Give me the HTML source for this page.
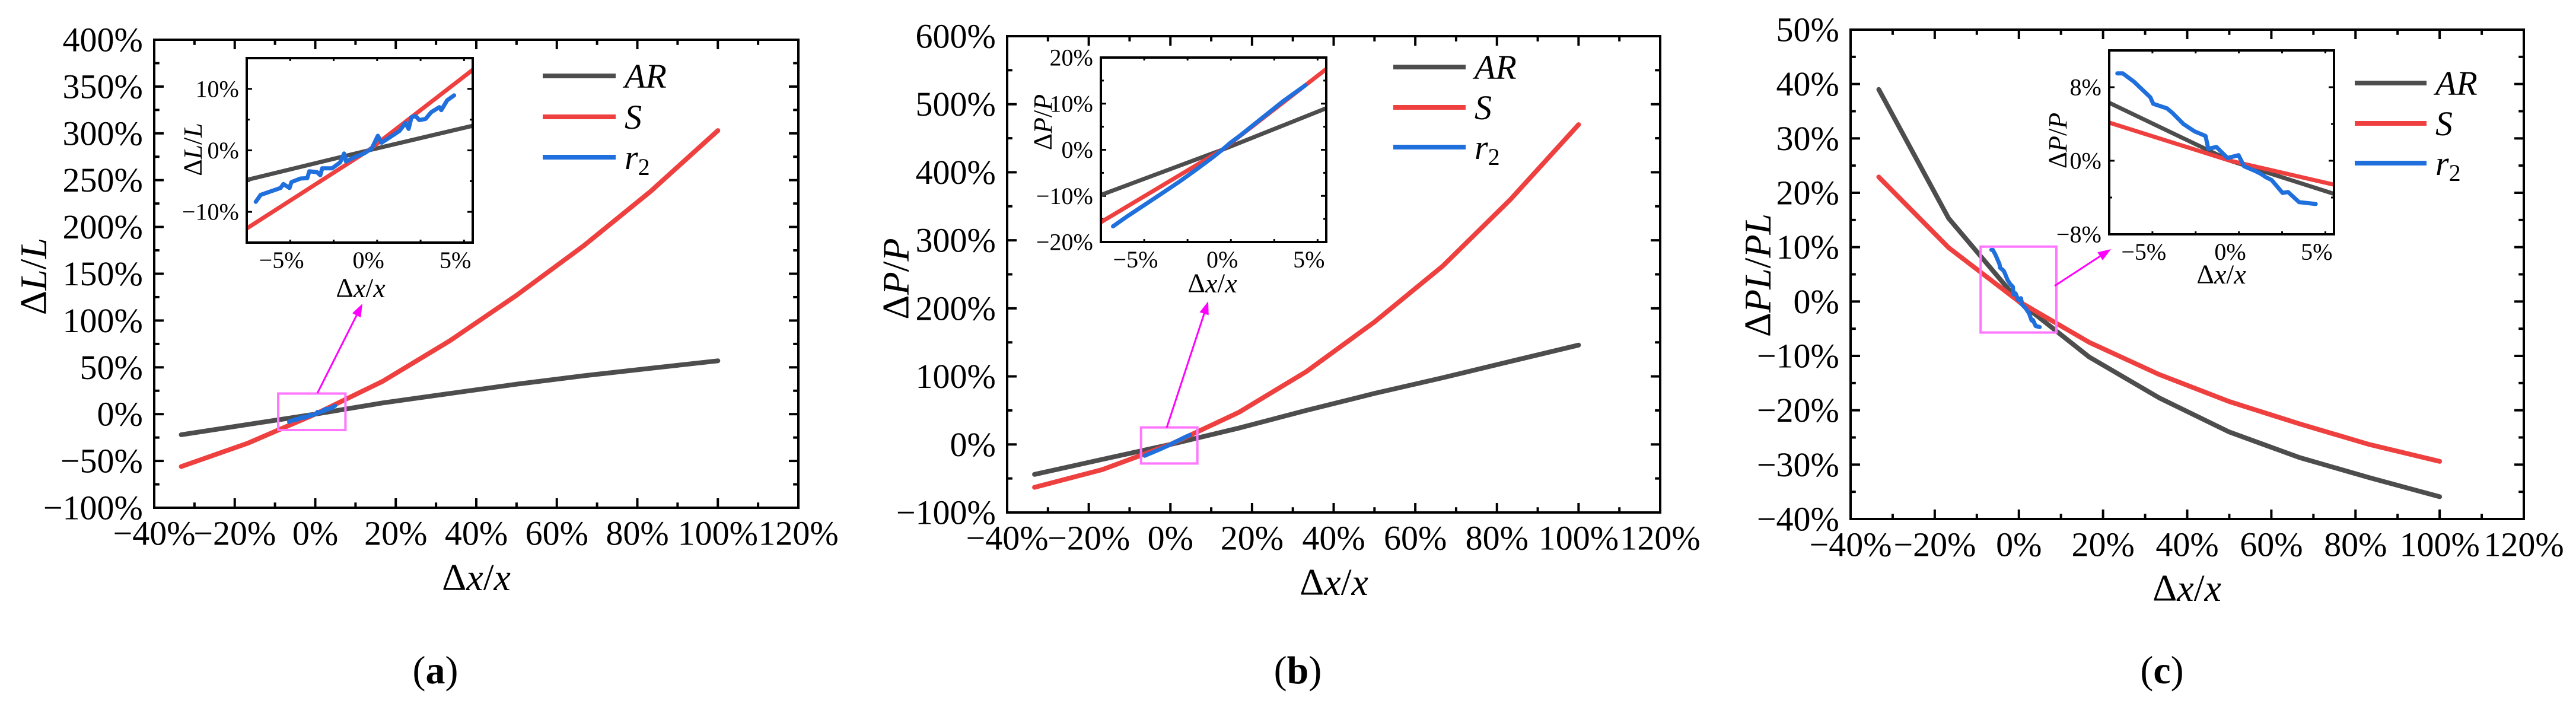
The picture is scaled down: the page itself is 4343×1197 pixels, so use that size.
<!DOCTYPE html>
<html><head><meta charset="utf-8">
<style>
html,body{margin:0;padding:0;background:#fff;}
svg, svg text{font-family:"Liberation Serif","DejaVu Serif",serif;}
</style></head>
<body>
<svg id="fig" width="4343" height="1192" viewBox="0 0 4343 1192" font-family="Liberation Serif, serif" xmlns="http://www.w3.org/2000/svg"></svg>
<script>
// ---- data ----
const xMain=[-33.3,-16.7,0,16.7,33.3,50,66.7,83.3,100];
const arA=[-22,-11,0,12,22,32,41,49,57];
const sA=[-56,-31,0,35,78,127,180,238,303];
const arB=[-44,-22,0,24,50,75,98,122,146];
const sB=[-63,-37,0,47,107,180,262,360,470];
const arC=[39,15.3,0,-10.2,-17.7,-24,-28.7,-32.4,-35.9];
const sC=[22.9,9.9,0,-7.5,-13.4,-18.4,-22.5,-26.3,-29.4];
const insX=[-7,0,6];
const insArA=[-4.8,0,4.0];
const insSA=[-12.7,0,13.1];
const insArB=[-9.8,0,9];
const insSB=[-15.7,0,17.5];
const insArC=[6.3,0,-3.6];
const insSC=[4.15,0,-2.6];
const r2xA=[-6.48,-6.20,-5.06,-4.89,-4.54,-4.43,-3.91,-3.52,-3.40,-2.95,-2.77,-2.66,-2.09,-1.63,-1.40,-1.29,-0.83,-0.26,0.19,0.54,0.76,1.45,1.79,2.13,2.31,2.48,2.71,2.93,3.28,3.62,4.08,4.19,4.53,4.93];
const r2yA=[-8.37,-7.24,-6.12,-5.48,-6.12,-5.16,-4.58,-4.52,-3.40,-3.56,-4.04,-2.92,-2.92,-1.96,-0.51,-1.80,-1.15,-0.51,0.29,2.37,1.25,2.53,3.17,4.45,3.49,5.41,5.58,4.93,5.10,6.22,7.02,6.54,8.14,8.94];
const r2xB=[-6.3,-5.5,-4.5,-3.5,-2.5,-1.5,-0.5,0,0.5,1,1.5,2.5,3.5,4.8];
const r2yB=[-16.6,-14.5,-12,-9.5,-7,-4.3,-1.5,0,1.6,3,4.5,7.5,10.5,14];
const r2xC=[-6.53,-6.21,-5.57,-4.62,-4.46,-3.66,-3.34,-2.71,-2.07,-1.43,-1.27,-0.80,-0.16,0.48,0.80,1.43,1.75,2.07,2.39,3.03,3.34,3.98,4.94];
const r2yC=[9.5,9.5,8.6,6.9,6.2,5.7,5.2,4.0,3.2,2.7,1.3,1.5,0.3,0.6,-0.6,-1.1,-1.4,-1.8,-2.1,-3.5,-3.4,-4.5,-4.7];
const xTicks=[-40,-20,0,20,40,60,80,100,120];
const yTicksA=[-100,-50,0,50,100,150,200,250,300,350,400];
const yTicksB=[-100,0,100,200,300,400,500,600];
const yTicksC=[-40,-30,-20,-10,0,10,20,30,40,50];
const insXTicks=[-5,0,5];
const insYTicksA=[-10,0,10];
const insYTicksB=[-20,-10,0,10,20];
const insYTicksC=[-8,0,8];

const NS="http://www.w3.org/2000/svg";
const FF="Liberation Serif, DejaVu Serif, serif";
const svg=document.getElementById('fig');
function mk(tag,attrs,parent){const e=document.createElementNS(NS,tag);for(const k in attrs)e.setAttribute(k,attrs[k]);if(tag==='text')e.setAttribute('font-family',FF);(parent||svg).appendChild(e);return e;}
function fmt(v){return (v<0?"\u2212"+(-v):""+v)+"%";}
const C_AR="#4d4d4d",C_S="#ef4040",C_R="#1f6fdc";

function axes(g,f,xt,yt,xMinor,yMinor,fs,tickLen,sw){
  const sx=v=>f.l+(v-f.x0)/(f.x1-f.x0)*(f.r-f.l);
  const sy=v=>f.b-(v-f.y0)/(f.y1-f.y0)*(f.b-f.t);
  const minorL=tickLen*0.55;
  for(let v=f.x0;v<=f.x1+1e-9;v+=xMinor){
    const maj=xt.some(t=>Math.abs(t-v)<1e-6);const L=maj?tickLen:minorL;const x=sx(v);
    const t1=mk('line',{x1:x,y1:f.b,x2:x,y2:f.b-L,stroke:'#000','stroke-width':sw},g);
    
    const t2=mk('line',{x1:x,y1:f.t,x2:x,y2:f.t+L,stroke:'#000','stroke-width':sw},g);
    
  }
  for(let v=f.y0;v<=f.y1+1e-9;v+=yMinor){
    const maj=yt.some(t=>Math.abs(t-v)<1e-6);const L=maj?tickLen:minorL;const y=sy(v);
    const t1=mk('line',{x1:f.l,y1:y,x2:f.l+L,y2:y,stroke:'#000','stroke-width':sw},g);
    
    const t2=mk('line',{x1:f.r,y1:y,x2:f.r-L,y2:y,stroke:'#000','stroke-width':sw},g);
    
  }
  xt.forEach(v=>{const t=mk('text',{x:sx(v),y:f.b+fs*0.74,'font-size':fs,'text-anchor':'middle','dominant-baseline':'central'},g);t.textContent=fmt(v);
    });
  yt.forEach(v=>{const t=mk('text',{x:f.l-fs*0.33,y:sy(v),'font-size':fs,'text-anchor':'end','dominant-baseline':'central'},g);t.textContent=fmt(v);
    });
  return {sx,sy};
}
function series(g,xs,ys,sx,sy,color,w,name,clip){
  const d=xs.map((x,i)=>(i?'L':'M')+sx(x).toFixed(1)+','+sy(ys[i]).toFixed(1)).join(' ');
  const p=mk('path',{d:d,fill:'none',stroke:color,'stroke-width':w,'stroke-linejoin':'round','stroke-linecap':'round'},g);
  if(clip)p.setAttribute('clip-path','url(#'+clip+')');
  
}
function ytitle(g,x,y,html,fs){const t=mk('text',{x:x,y:y,'font-size':fs,'text-anchor':'middle','dominant-baseline':'central',transform:`rotate(-90 ${x} ${y})`},g);t.innerHTML=html;return t;}
function xtitle(g,x,y,fs){const t=mk('text',{x:x,y:y,'font-size':fs,'text-anchor':'middle','dominant-baseline':'central'},g);t.innerHTML='\u0394<tspan font-style="italic">x</tspan>/<tspan font-style="italic">x</tspan>';return t;}

function panel(P){
  const g=mk('g',{});
  const f=P.frame;
  const m=axes(g,f,xTicks,P.yt,10,P.yMinor,58,16,4);
  series(g,xMain,P.ar,m.sx,m.sy,C_AR,8,'series-ar');
  series(g,xMain,P.s,m.sx,m.sy,C_S,8,'series-s');
  series(g,P.rx,P.ry,m.sx,m.sy,C_R,7,'series-r2');
  const fr=mk('rect',{x:f.l,y:f.t,width:f.r-f.l,height:f.b-f.t,fill:'none',stroke:'#000','stroke-width':4},g);
  
  const zb=P.box;
  const bx=mk('rect',{x:m.sx(zb[0]),y:m.sy(zb[3]),width:m.sx(zb[1])-m.sx(zb[0]),height:m.sy(zb[2])-m.sy(zb[3]),fill:'none',stroke:'#ff77ff','stroke-width':4},g);
  
  const a=P.arrow;
  const ang=Math.atan2(a[3]-a[1],a[2]-a[0]);
  const hx=a[2]-22*Math.cos(ang),hy=a[3]-22*Math.sin(ang);
  const al=mk('line',{x1:a[0],y1:a[1],x2:hx,y2:hy,stroke:'#ff00ff','stroke-width':3},g);
  
  const px=-Math.sin(ang)*8,py=Math.cos(ang)*8;
  const ah=mk('polygon',{points:`${a[2]},${a[3]} ${hx+px},${hy+py} ${hx-px},${hy-py}`,fill:'#ff00ff'},g);
  
  const I=P.inset;
  const ig=mk('g',{},g);
  const bg=mk('rect',{x:I.l,y:I.t,width:I.r-I.l,height:I.b-I.t,fill:'#fff'},ig);
  
  const cid='clip'+P.name;
  const cp=mk('clipPath',{id:cid},ig);mk('rect',{x:I.l,y:I.t,width:I.r-I.l,height:I.b-I.t},cp);
  const im=axes(ig,I,insXTicks,P.iyt,2.5,P.iyMinor,40,9,3);
  series(ig,insX,P.iar,im.sx,im.sy,C_AR,7,'inset-series-ar',cid);
  series(ig,insX,P.is,im.sx,im.sy,C_S,7,'inset-series-s',cid);
  series(ig,P.rx,P.ry,im.sx,im.sy,C_R,7,'inset-series-r2',cid);
  const ifr=mk('rect',{x:I.l,y:I.t,width:I.r-I.l,height:I.b-I.t,fill:'none',stroke:'#000','stroke-width':4},ig);
  
  const iyt=ytitle(ig,P.iyTitle[0],P.iyTitle[1],P.iyTitleHtml,44);
  
  const ixt=xtitle(ig,P.ixTitle[0],P.ixTitle[1],46);
  
  const yt=ytitle(g,P.yTitle[0],P.yTitle[1],P.yTitleHtml,64);
  
  const xt=xtitle(g,P.xTitle[0],P.xTitle[1],64);
  
  const sl=mk('text',{x:P.sub[0],y:P.sub[1],'font-size':66,'text-anchor':'middle','dominant-baseline':'central'},g);
  sl.innerHTML='(<tspan font-weight="bold">'+P.letter+'</tspan>)';
  
  const L=P.legend;
  const items=[[C_AR,'<tspan font-style="italic">AR</tspan>','legend-entry-ar'],[C_S,'<tspan font-style="italic">S</tspan>','legend-entry-s'],[C_R,'<tspan font-style="italic">r</tspan><tspan font-size="40" dy="16">2</tspan>','legend-entry-r2']];
  items.forEach((it,i)=>{
    const y=L.y[i];
    const lg=mk('g',{},g);
    mk('line',{x1:L.x0,y1:y,x2:L.x1,y2:y,stroke:it[0],'stroke-width':8},lg);
    const t=mk('text',{x:L.x1+15,y:y,'font-size':58,'dominant-baseline':'central'},lg);t.innerHTML=it[1];
  });
}

panel({name:'panel-a',letter:'a',frame:{l:260,r:1346,t:67,b:856,x0:-40,x1:120,y0:-100,y1:400},
  yt:yTicksA,yMinor:25,ar:arA,s:sA,rx:r2xA,ry:r2yA,box:[-9.2,7.5,-17,22],arrow:[535,663,611,512],
  inset:{l:416,r:797,t:98,b:409,x0:-7,x1:6,y0:-15,y1:15},iyt:insYTicksA,iyMinor:5,iar:insArA,is:insSA,
  iyTitle:[325,252],iyTitleHtml:'\u0394<tspan font-style="italic">L</tspan>/<tspan font-style="italic">L</tspan>',ixTitle:[608,485],
  yTitle:[56,466],yTitleHtml:'\u0394<tspan font-style="italic">L</tspan>/<tspan font-style="italic">L</tspan>',xTitle:[803,973],sub:[734,1130],
  legend:{x0:915,x1:1038,y:[128,197,265]}});
panel({name:'panel-b',letter:'b',frame:{l:1698,r:2799,t:61,b:864,x0:-40,x1:120,y0:-100,y1:600},
  yt:yTicksB,yMinor:50,ar:arB,s:sB,rx:r2xB,ry:r2yB,box:[-7.2,6.6,-28,25],arrow:[1967,721,2037,508],
  inset:{l:1856,r:2236,t:97,b:408,x0:-7,x1:6,y0:-20,y1:20},iyt:insYTicksB,iyMinor:5,iar:insArB,is:insSB,
  iyTitle:[1758,206],iyTitleHtml:'\u0394<tspan font-style="italic">P</tspan>/<tspan font-style="italic">P</tspan>',ixTitle:[2044,477],
  yTitle:[1510,470],yTitleHtml:'\u0394<tspan font-style="italic">P</tspan>/<tspan font-style="italic">P</tspan>',xTitle:[2249,981],sub:[2188,1130],
  legend:{x0:2349,x1:2471,y:[113,181,248]}});
panel({name:'panel-c',letter:'c',frame:{l:3120,r:4255,t:50,b:875,x0:-40,x1:120,y0:-40,y1:50},
  yt:yTicksC,yMinor:5,ar:arC,s:sC,rx:r2xC,ry:r2yC,box:[-9.1,8.9,-5.7,10.1],arrow:[3464,482,3559,420],
  inset:{l:3556,r:3935,t:85,b:395,x0:-7,x1:6,y0:-8,y1:12},iyt:insYTicksC,iyMinor:4,iar:insArC,is:insSC,
  iyTitle:[3469,237],iyTitleHtml:'\u0394<tspan font-style="italic">P</tspan>/<tspan font-style="italic">P</tspan>',ixTitle:[3745,462],
  yTitle:[2963,464],yTitleHtml:'\u0394<tspan font-style="italic">PL</tspan>/<tspan font-style="italic">PL</tspan>',xTitle:[3687,991],sub:[3645,1130],
  legend:{x0:3970,x1:4091,y:[140,208,275]}});
</script>
</body></html>
